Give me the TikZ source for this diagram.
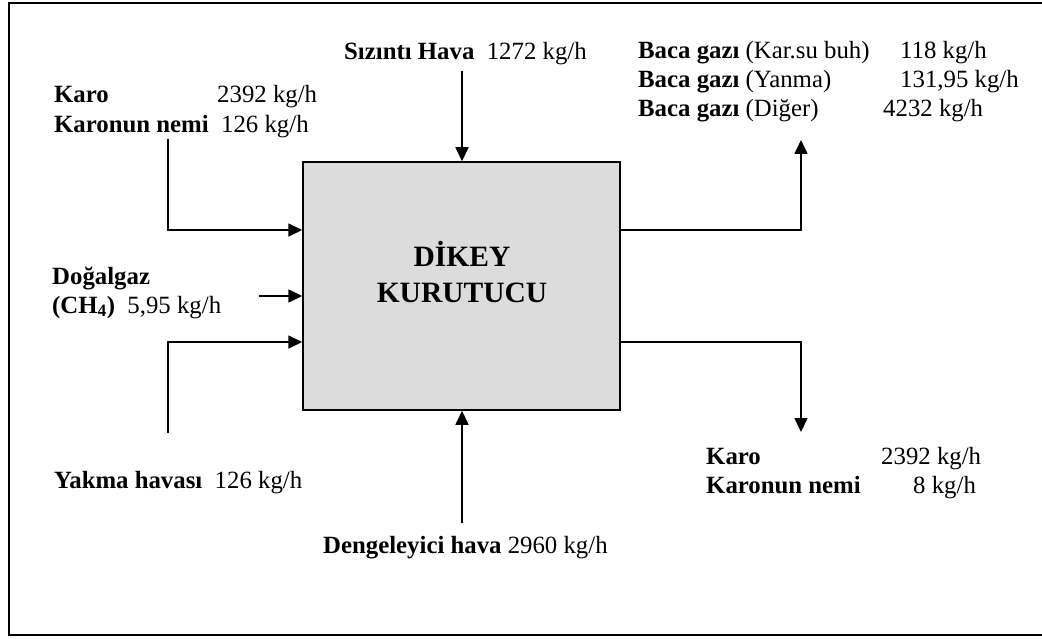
\documentclass[tikz,border=0pt]{standalone}
\usepackage{fontspec}
\setmainfont{Liberation Serif}
\usetikzlibrary{arrows.meta}
\tikzset{
  lbl/.style={anchor=base west, inner sep=0pt, font=\fontsize{24.8}{29}\selectfont},
  flow/.style={line width=1.6pt, -{Triangle[length=14pt,width=13pt]}},
}
\begin{document}
\begin{tikzpicture}[x=1pt,y=-1pt]
\useasboundingbox (0,0) rectangle (1042,639);
% frame (right side runs off the picture)
\draw[line width=1.6pt] (1042,3) -- (9,3) -- (9,635) -- (1042,635);
% main box
\node[draw, line width=1.5pt, fill={rgb,255:red,220;green,220;blue,220}, minimum width=317pt, minimum height=248pt, inner sep=0pt] (box) at (461.5,286) {};
\node[anchor=base, inner sep=0pt, font=\fontsize{29.5}{35}\selectfont\bfseries] (title) at (462,267) {DİKEY};
\node[anchor=base, inner sep=0pt, font=\fontsize{29.5}{35}\selectfont\bfseries] (title2) at (462,302) {KURUTUCU};
% labels
\node[lbl] (siz) at (344,60) {\textbf{Sızıntı Hava}\enspace 1272 kg/h};
\node[lbl] (karo1) at (54,103) {\textbf{Karo}};
\node[lbl] (karo1v) at (217,103) {2392 kg/h};
\node[lbl] (nem1) at (54,133) {\textbf{Karonun nemi}\enspace 126 kg/h};
\node[lbl] (dog) at (52,285) {\textbf{Doğalgaz}};
\node[lbl] (ch4) at (52,313) {\textbf{(CH\textsubscript{4})}\enspace 5,95 kg/h};
\node[lbl] (yak) at (54,488) {\textbf{Yakma havası}\enspace 126 kg/h};
\node[lbl] (den) at (323,553) {\textbf{Dengeleyici hava} 2960 kg/h};
\node[lbl] (b1) at (638,59) {\textbf{Baca gazı} (Kar.su buh)};
\node[lbl] (b1v) at (900,59) {118 kg/h};
\node[lbl] (b2) at (638,88) {\textbf{Baca gazı} (Yanma)};
\node[lbl] (b2v) at (900,88) {131,95 kg/h};
\node[lbl] (b3) at (638,117) {\textbf{Baca gazı} (Diğer)};
\node[lbl] (b3v) at (883,117) {4232 kg/h};
\node[lbl] (karo2) at (706,464) {\textbf{Karo}};
\node[lbl] (karo2v) at (881,464) {2392 kg/h};
\node[lbl] (nem2) at (706,493) {\textbf{Karonun nemi}};
\node[lbl] (nem2v) at (913,493) {8 kg/h};
% connector ends
\coordinate (sizS) at (462,71);
\coordinate (karoS) at (168,139);
\coordinate (dogS) at (259,296);
\coordinate (yakS) at (168,433);
\coordinate (denS) at (462,523);
\coordinate (bacaE) at (801,140);
\coordinate (karoE) at (801,432);
% connectors
\draw[flow] (sizS) -- (sizS |- box.north);
\draw[flow] (karoS) |- (box.west |- 0,230);
\draw[flow] (dogS) -- (box.west |- dogS);
\draw[flow] (yakS) |- (box.west |- 0,342);
\draw[flow] (denS) -- (denS |- box.south);
\draw[flow] (box.east |- 0,230) -| (bacaE);
\draw[flow] (box.east |- 0,342) -| (karoE);
\end{tikzpicture}
\end{document}
